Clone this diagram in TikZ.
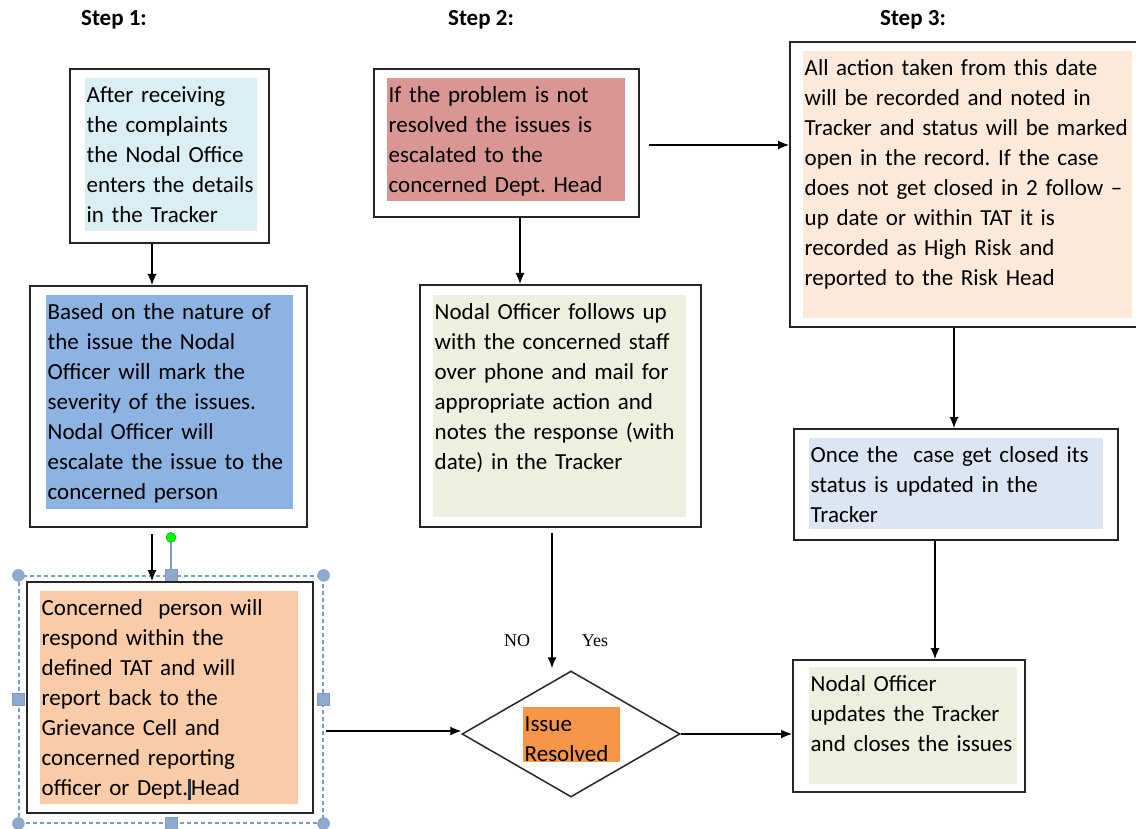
\documentclass[tikz,border=0pt]{standalone}
\usepackage{fontspec}
\setmainfont{Carlito}
\newfontfamily\tagfont{Liberation Serif}
\frenchspacing
\usetikzlibrary{arrows.meta,shapes.geometric}
\definecolor{framec}{HTML}{262626}
\definecolor{paleblue}{HTML}{DAEEF3}
\definecolor{midblue}{HTML}{8DB3E2}
\definecolor{peach}{HTML}{F9CBA6}
\definecolor{deeporange}{HTML}{F79646}
\definecolor{rose}{HTML}{D99694}
\definecolor{palegreen}{HTML}{EBF1DE}
\definecolor{palepeach}{HTML}{FDE9D9}
\definecolor{greyblue}{HTML}{DCE6F2}
\definecolor{selc}{HTML}{7E9BC5}
\definecolor{gripfill}{HTML}{8EA8CE}
\definecolor{caret}{HTML}{1F3A5F}
\begin{document}
\begin{tikzpicture}[x=1pt, y=-1pt, >={Latex[length=11pt,width=9pt]},
  frame/.style={draw=framec, line width=2pt, fill=white, inner sep=0pt},
  shade/.style={anchor=north west, align=left, inner xsep=1.5pt, inner ysep=3pt,
    text height=21pt, font=\fontsize{23}{30}\selectfont},
  flow/.style={->, line width=1.2pt},
  steplabel/.style={font=\fontsize{23}{28}\selectfont\bfseries},
  tag/.style={font=\tagfont\fontsize{18}{20}\selectfont}]
\clip (0,0) rectangle (1136,829);
% step titles
\node[steplabel] (step1) at (114,20) {Step 1:};
\node[steplabel] (step2) at (481,20) {Step 2:};
\node[steplabel] (step3) at (913,20) {Step 3:};
% step 1
\node[frame, minimum width=199, minimum height=174] (recv) at (169.5,156) {};
\node[shade, fill=paleblue, text width=169pt, text depth=126pt] (recv-t) at (85,78)
  {After receiving\\the complaints\\the Nodal Office\\enters the details\\in the Tracker};
\node[frame, minimum width=277, minimum height=241] (sev) at (168.5,406.5) {};
\node[shade, fill=midblue, text width=244pt, text depth=187pt] (sev-t) at (46,295)
  {Based on the nature of\\the issue the Nodal\\Officer will mark the\\severity of the issues.\\Nodal Officer will\\escalate the issue to the\\concerned person};
% selected box with its handles
\node[draw=selc, line width=1.2pt, dash pattern=on 4pt off 3pt, minimum width=304,
  minimum height=247, inner sep=0pt] (sel) at (171,699.5) {};
\draw[selc, line width=1.5pt] (sel.north) -- ++(0,-38) coordinate (rot);
\filldraw[fill=green, draw=green!60!black] (rot) circle (5pt);
\foreach \c in {north west,north east,south west,south east}
  \filldraw[fill=gripfill, draw=selc] (sel.\c) circle (6pt);
\foreach \c in {north,south,west,east}
  \filldraw[fill=gripfill, draw=selc] ([shift={(-6pt,-6pt)}]sel.\c) rectangle ([shift={(6pt,6pt)}]sel.\c);
\node[frame, minimum width=286, minimum height=231] (resp) at (170,697.5) {};
\node[shade, fill=peach, text width=255pt, text depth=186pt] (resp-t) at (40,591)
  {Concerned~ person will\\respond within the\\defined TAT and will\\report back to the\\Grievance Cell and\\concerned reporting\\officer or Dept.\textcolor{caret}{\rule[-5pt]{3pt}{21pt}}Head};
% step 2
\node[frame, minimum width=265, minimum height=148] (esc) at (506.5,143) {};
\node[shade, fill=rose, text width=235pt, text depth=96pt] (esc-t) at (387,78)
  {If the problem is not\\resolved the issues is\\escalated to the\\concerned Dept. Head};
\node[frame, minimum width=281, minimum height=242] (follow) at (560.5,406) {};
\node[shade, fill=palegreen, text width=250pt, text depth=195pt] (follow-t) at (433,295)
  {Nodal Officer follows up\\with the concerned staff\\over phone and mail for\\appropriate action and\\notes the response (with\\date) in the Tracker};
\node[draw=framec, line width=1.5pt, diamond, minimum width=218, minimum height=126,
  inner sep=0pt] (res) at (571,734) {};
\node[shade, fill=deeporange, text width=94pt, text depth=28pt] (res-t) at (523,707)
  {Issue\\Resolved};
\node[tag] (no) at (517,641) {NO};
\node[tag] (yes) at (595,641) {Yes};
% step 3
\node[frame, minimum width=355, minimum height=285] (rec) at (967.5,184.5) {};
\node[shade, fill=palepeach, text width=326pt, text depth=240pt] (rec-t) at (803,51)
  {All action taken from this date\\will be recorded and noted in\\Tracker and status will be marked\\open in the record. If the case\\does not get closed in 2 follow –\\up date or within TAT it is\\recorded as High Risk and\\reported to the Risk Head};
\node[frame, minimum width=324, minimum height=111] (closed) at (956,484.5) {};
\node[shade, fill=greyblue, text width=291pt, text depth=64pt] (closed-t) at (809,438)
  {Once the~ case get closed its\\status is updated in the\\Tracker};
\node[frame, minimum width=232, minimum height=132] (update) at (909,726) {};
\node[shade, fill=palegreen, text width=205pt, text depth=90pt] (update-t) at (809,667)
  {Nodal Officer\\updates the Tracker\\and closes the issues};
% arrows
\draw[flow] ([xshift=-17.5]recv.south) -- ([xshift=-17.5]recv.south |- sev.north);
\draw[flow] ([xshift=-16.5,yshift=-6]sev.south) -- ([xshift=-16.5]sev.south |- resp.north);
\draw[flow] ([xshift=12,yshift=-33.5]resp.east) -- ([yshift=-33.5]resp.east -| res.west);
\draw[flow] ([xshift=13.5]esc.south) -- ([xshift=13.5]esc.south |- follow.north);
\draw[flow] ([xshift=-8.5,yshift=-5]follow.south) -- ([xshift=-8.5,yshift=2]follow.south |- res.north);
\draw[flow] ([xshift=9,yshift=-2]esc.east) -- ([yshift=-2]esc.east -| rec.west);
\draw[flow] (res.east) -- (res.east -| update.west);
\draw[flow] ([xshift=-13.5]rec.south) -- ([xshift=-13.5]rec.south |- closed.north);
\draw[flow] ([xshift=-21]closed.south) -- ([xshift=-21]closed.south |- update.north);
\end{tikzpicture}
\end{document}
